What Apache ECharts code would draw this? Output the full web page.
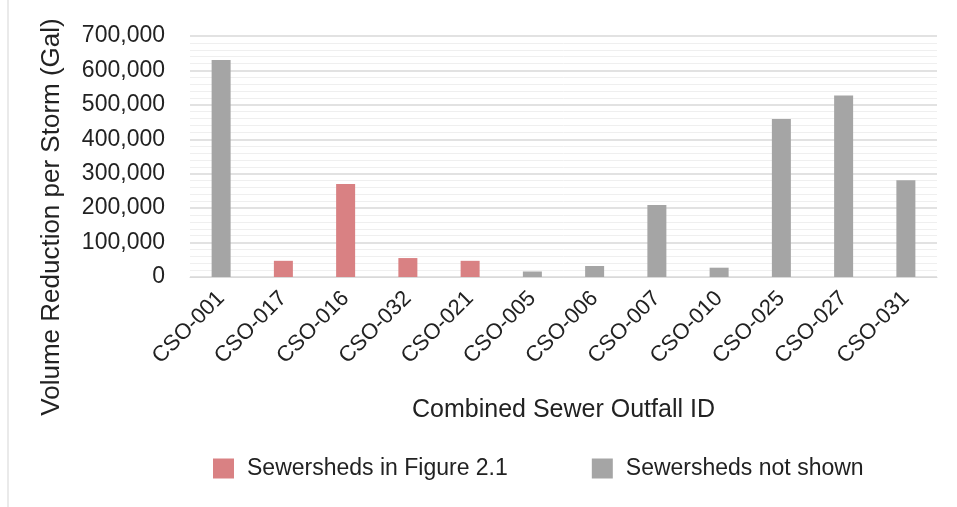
<!DOCTYPE html>
<html>
<head>
<meta charset="utf-8">
<script src="https://cdn.jsdelivr.net/npm/echarts@6/dist/echarts.min.js"></script>
<style>
    html, body { margin: 0; padding: 0; background: #fff; }
    #chart { width: 957px; height: 507px; }
</style>
</head>
<body>
<div id="chart"></div>
<script>
    var categories = ['CSO-001', 'CSO-017', 'CSO-016', 'CSO-032', 'CSO-021', 'CSO-005',
                      'CSO-006', 'CSO-007', 'CSO-010', 'CSO-025', 'CSO-027', 'CSO-031'];
    // one value per category, '-' where the other group owns the bar
    var inFigure = ['-', 47000, 270000, 55000, 47000, '-', '-', '-', '-', '-', '-', '-'];
    var notShown = [630000, '-', '-', '-', '-', 16000, 32000, 209000, 27000, 459000, 527000, 281000];
    var legendNames = ['Sewersheds in Figure 2.1', 'Sewersheds not shown'];
    var yTitle = 'Volume Reduction per Storm (Gal)';

    var font = 'Liberation Sans';
    var chart = echarts.init(document.getElementById('chart'));

    var option = {
        backgroundColor: '#fff',
        animation: false,
        textStyle: { fontFamily: font },
        grid: { left: 190, right: 20, top: 36, bottom: 230, containLabel: false },
        legend: {
            data: legendNames,
            icon: 'rect',
            top: 452,
            left: 208,
            itemWidth: 21,
            itemHeight: 20,
            itemGap: 84,
            textStyle: { fontSize: 23, color: '#222', fontFamily: font, padding: [0, 0, 0, 8] }
        },
        xAxis: {
            type: 'category',
            data: categories,
            name: 'Combined Sewer Outfall ID',
            nameLocation: 'middle',
            nameGap: 121,
            nameTextStyle: { fontSize: 25, color: '#222', fontFamily: font },
            axisLine: { lineStyle: { color: '#d9d9d9' } },
            axisTick: { show: false },
            axisLabel: { interval: 0, rotate: 45, fontSize: 22, color: '#222', margin: 18 }
        },
        yAxis: {
            type: 'value',
            min: 0,
            max: 700000,
            interval: 100000,
            axisLabel: {
                fontSize: 23,
                color: '#222',
                margin: 25,
                formatter: function (v) { return v.toLocaleString('en-US'); }
            },
            splitLine: { lineStyle: { color: '#d9d9d9', width: 1.5 } },
            minorTick: { show: false, splitNumber: 5 },
            minorSplitLine: { show: true, lineStyle: { color: '#efefef' } }
        },
        series: [
            {
                name: legendNames[0],
                type: 'bar',
                stack: 'all',
                barWidth: 19,
                data: inFigure,
                itemStyle: { color: '#d98183' }
            },
            {
                name: legendNames[1],
                type: 'bar',
                stack: 'all',
                barWidth: 19,
                data: notShown,
                itemStyle: { color: '#a5a5a5' }
            }
        ],
        graphic: [
            {
                type: 'line',
                shape: { x1: 8, y1: 0, x2: 8, y2: 507 },
                style: { stroke: '#e3e3e3', lineWidth: 1.5 }
            },
            {
                type: 'text',
                x: 52,
                y: 217,
                rotation: Math.PI / 2,
                style: {
                    text: yTitle,
                    fontSize: 26,
                    fontFamily: font,
                    fill: '#222',
                    align: 'center',
                    verticalAlign: 'middle'
                }
            }
        ]
    };

    chart.setOption(option);
</script>
</body>
</html>
